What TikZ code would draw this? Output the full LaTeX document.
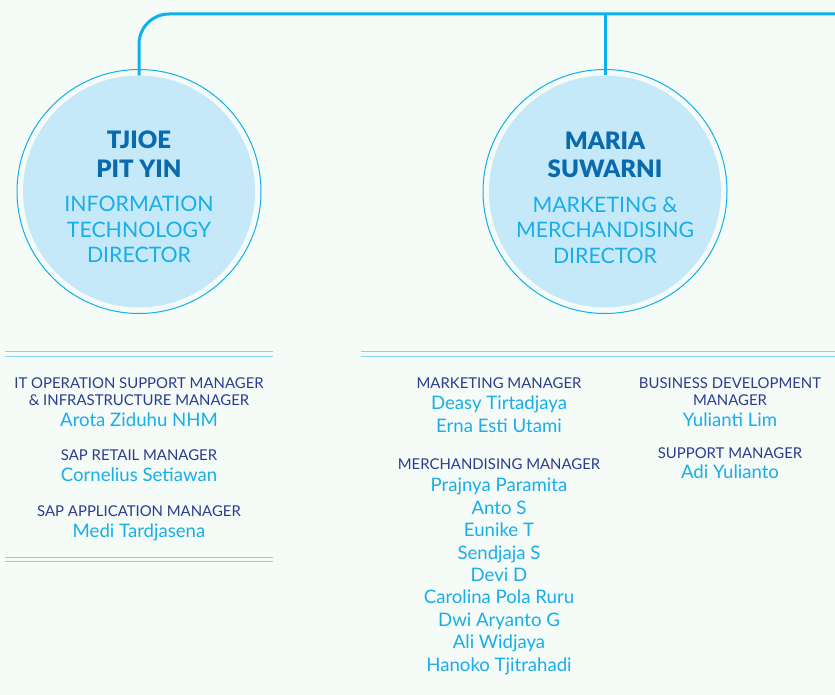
\documentclass[tikz,border=0pt]{standalone}
\usepackage{fontspec}
\setmainfont{Lato}
\newfontfamily\latoblack{Lato}[UprightFont={* Black}]
\usetikzlibrary{positioning}
\definecolor{bgmint}{HTML}{F5FBF6}
\definecolor{linecyan}{HTML}{0DB0EE}
\definecolor{circfill}{HTML}{C6E9FA}
\definecolor{namedark}{HTML}{0A6AAE}
\definecolor{rolecyan}{HTML}{17AEEA}
\definecolor{titlenavy}{HTML}{2B3D8E}
\definecolor{rulecyan}{HTML}{84D2F6}

\begin{document}
\begin{tikzpicture}[x=1pt,y=-1pt,
        director/.style={circle,fill=circfill,minimum size=232pt,inner sep=0pt},
        ringline/.style={draw=linecyan,line width=1pt},
        link/.style={draw=linecyan,line width=3pt,rounded corners=30pt},
        rule/.style={draw=rulecyan,line width=1pt,double=bgmint,double distance=3.3pt},
        dirname/.style={anchor=base,align=center,text=namedark,font=\fontsize{24}{28.3}\selectfont\latoblack},
        dirrole/.style={anchor=base,align=center,text=rolecyan,font=\fontsize{21.3}{25.5}\selectfont},
        mgrtitle/.style={anchor=base,align=center,text=titlenavy,font=\fontsize{14.9}{16.7}\selectfont},
        mgrname/.style={anchor=base,align=center,text=rolecyan,font=\fontsize{18.6}{22.4}\selectfont}]
        \path[use as bounding box,fill=bgmint] (0,0) rectangle (835,695);
        % directors
        \node[director] (tjioe) at (139,191.5) {};
        \node[director] (maria) at (605,191.5) {};
        \draw[ringline] (tjioe.center) circle[radius=122pt];
        \draw[ringline] (maria.center) circle[radius=122pt];
        % (base of a multi-line node = its last line)
        \node[dirname] (tjioe-n) at (139,177.3) {TJIOE\\PIT YIN};
        \node[dirrole] (tjioe-r) at (139,262.7) {INFORMATION\\TECHNOLOGY\\DIRECTOR};
        \node[dirname] (maria-n) at (605,177.7) {MARIA\\SUWARNI};
        \node[dirrole] (maria-r) at (605,263.3) {MARKETING \&\\MERCHANDISING\\DIRECTOR};
        % top connector
        \coordinate (topend) at (835,14);
        \draw[link] (tjioe.north) |- (topend);
        \draw[link] (maria.north) -- (maria.north |- topend);
        % rules
        \draw[rule] (5,354) -- (273,354);
        \draw[rule] (5,559.5) -- (273,559.5);
        \draw[rule] (361,354) -- (835,354);
        % information technology
        \node[mgrtitle] (itops-t) at (139,405) {IT OPERATION SUPPORT MANAGER\\\& INFRASTRUCTURE MANAGER};
        \node[mgrname] (itops-n) at (139,426) {Arota Ziduhu NHM};
        \node[mgrtitle] (sapret-t) at (139,460.7) {SAP RETAIL MANAGER};
        \node[mgrname] (sapret-n) at (139,481.7) {Cornelius Setiawan};
        \node[mgrtitle] (sapapp-t) at (139,516.7) {SAP APPLICATION MANAGER};
        \node[mgrname] (sapapp-n) at (139,537.3) {Medi Tardjasena};
        % marketing & merchandising
        \node[mgrtitle] (mkt-t) at (499,388.3) {MARKETING MANAGER};
        \node[mgrname] (mkt-n) at (499,432.3) {Deasy Tirtadjaya\\Erna Esti Utami};
        \node[mgrtitle] (mer-t) at (499,469.3) {MERCHANDISING MANAGER};
        \node[mgrname] (mer-n) at (499,671) {Prajnya Paramita\\Anto S\\Eunike T\\Sendjaja S\\Devi D\\Carolina Pola Ruru\\Dwi Aryanto G\\Ali Widjaya\\Hanoko Tjitrahadi};
        \node[mgrtitle] (bizdev-t) at (730,405) {BUSINESS DEVELOPMENT\\MANAGER};
        \node[mgrname] (bizdev-n) at (730,426) {Yulianti Lim};
        \node[mgrtitle] (sup-t) at (730,458.3) {SUPPORT MANAGER};
        \node[mgrname] (sup-n) at (730,478.3) {Adi Yulianto};
\end{tikzpicture}
\end{document}
